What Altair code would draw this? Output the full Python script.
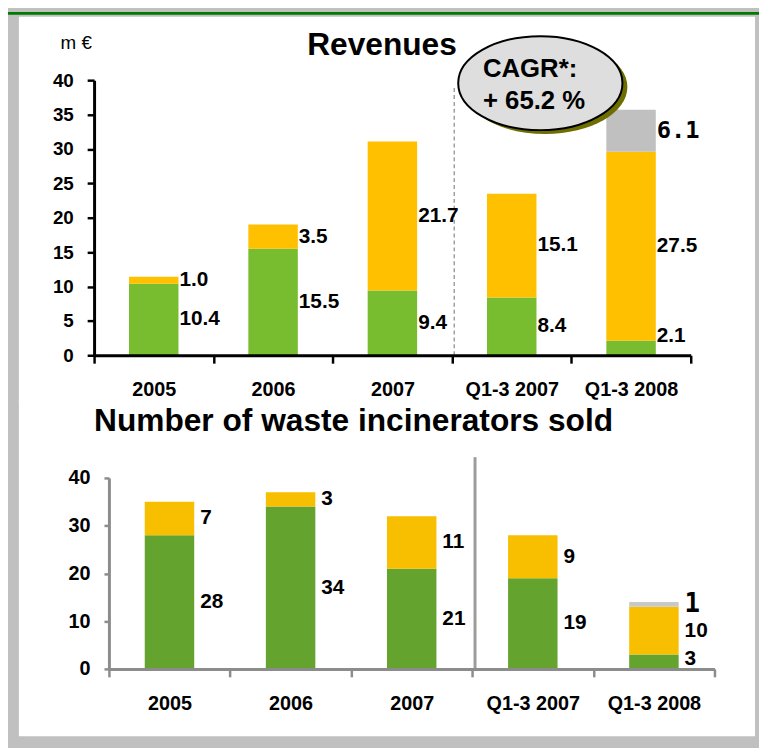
import altair as alt
import pandas as pd

# ---------------- data ----------------
categories = ["2005", "2006", "2007", "Q1-3 2007", "Q1-3 2008"]
series = ["Segment A", "Segment B", "Segment C"]

revenue_a = [10.4, 15.5, 9.4, 8.4, 2.1]
revenue_b = [1.0, 3.5, 21.7, 15.1, 27.5]
revenue_c = [0.0, 0.0, 0.0, 0.0, 6.1]

units_a = [28, 34, 21, 19, 3]
units_b = [7, 3, 11, 9, 10]
units_c = [0, 0, 0, 0, 1]

rev_ticks = [0, 5, 10, 15, 20, 25, 30, 35, 40]
unit_ticks = [0, 10, 20, 30, 40]

top_colors = ["#78BC30", "#FFC000", "#C0C0C0"]
bot_colors = ["#64A42E", "#F7BF00", "#C8C8C8"]

FONT = "Liberation Sans, Arial, sans-serif"
MONO = "DejaVu Sans Mono, monospace"


def long_table(a, b, c, fmt, floor):
    rows = []
    for i, cat in enumerate(categories):
        base = 0.0
        for j, v in enumerate((a[i], b[i], c[i])):
            if v > 0:
                mid = base + v / 2
                rows.append(dict(cat=cat, series=series[j], order=j, value=v,
                                 y0=base, y1=base + v,
                                 lab=max(mid, floor), label=fmt.format(v)))
            base += v
    return pd.DataFrame(rows)


rev_df = long_table(revenue_a, revenue_b, revenue_c, "{:.1f}", 2.8)
unit_df = long_table(units_a, units_b, units_c, "{:.0f}", 2.0)
one = pd.DataFrame({"k": [0]})


def axis_x(color, tick_size):
    return alt.Axis(labelAngle=0, tickBand="extent", labelFont=FONT, labelFontSize=20,
                    labelFontWeight="bold", labelColor="black", domainColor=color,
                    domainWidth=3, tickColor=color, tickWidth=2.5, tickSize=tick_size,
                    labelPadding=17, zindex=1, title=None)


def axis_y(color, values, tick_size, font_size):
    return alt.Axis(values=values, labelFont=FONT, labelFontSize=font_size,
                    labelFontWeight="bold", labelColor="black", domainColor=color,
                    domainWidth=3, tickColor=color, tickWidth=2.5, tickSize=tick_size,
                    labelPadding=14, labelOverlap=False, zindex=1, grid=False, title=None)


def panel(df, colors, xcolor, yticks, ytick_size, yfont, dx, mono_size):
    xscale = alt.Scale(paddingInner=0, paddingOuter=0)
    yscale = alt.Scale(domain=[0, 40], nice=False)
    xs = alt.X("cat:N", sort=categories, scale=xscale, axis=axis_x(xcolor, 8))
    ys = alt.Y("y1:Q", scale=yscale, axis=axis_y(xcolor, yticks, ytick_size, yfont))
    yt = alt.Y("lab:Q", scale=yscale, axis=axis_y(xcolor, yticks, ytick_size, yfont))
    bars = alt.Chart(df).mark_bar(size=50).encode(
        x=xs, y=ys, y2="y0:Q",
        color=alt.Color("series:N", scale=alt.Scale(domain=series, range=colors), legend=None),
    )
    labels = alt.Chart(df).transform_filter("datum.order < 2").mark_text(
        align="left", baseline="middle", dx=dx, font=FONT, fontSize=21,
        fontWeight="bold", color="black"
    ).encode(x=xs, y=yt, text="label:N")
    labels_c = alt.Chart(df).transform_filter("datum.order == 2").mark_text(
        align="left", baseline="middle", dx=dx, font=MONO, fontSize=mono_size,
        fontWeight="bold", color="black"
    ).encode(x=xs, y=yt, text="label:N")
    return bars, labels, labels_c


# ---------------- top: revenues ----------------
W1, H1 = 603, 278
bars1, lab1, labc1 = panel(rev_df, top_colors, "black", rev_ticks, 7, 19, 26, 24)

green_bar = alt.Chart(one).mark_rect(color="#007A00").encode(
    x=alt.value(-87), x2=alt.value(672), y=alt.value(-69), y2=alt.value(-66))
bg1 = alt.Chart(one).mark_rect(color="white").encode(
    x=alt.value(-76), x2=alt.value(668), y=alt.value(-64), y2=alt.value(327))
sep1 = alt.Chart(one).mark_rule(color="#A0A0A0", strokeWidth=1.5, strokeDash=[4, 3]).encode(
    x=alt.value(364), y=alt.value(8), y2=alt.value(H1))
title1 = alt.Chart(one).mark_text(text="Revenues", font=FONT, fontSize=32, fontWeight="bold",
                                  align="center", baseline="alphabetic", color="black").encode(
    x=alt.value(291), y=alt.value(-25))
unit1 = alt.Chart(one).mark_text(text="m €", font=FONT, fontSize=19,
                                 align="center", baseline="alphabetic", color="black").encode(
    x=alt.value(-18), y=alt.value(-31))

ELL = "M-1,0A1,0.572,0,1,1,1,0A1,0.572,0,1,1,-1,0Z"
shadow = alt.Chart(one).mark_point(shape=ELL, size=27556, filled=True, fill="#6E6E00",
                                   opacity=1, strokeWidth=0).encode(
    x=alt.value(456), y=alt.value(7))
ellipse = alt.Chart(one).mark_point(shape=ELL, size=27556, filled=True, fill="#DEDEDE",
                                    stroke="black", strokeWidth=2, opacity=1).encode(
    x=alt.value(451), y=alt.value(3))
cagr1 = alt.Chart(one).mark_text(text="CAGR*:", font=FONT, fontSize=26, fontWeight="bold",
                                 align="left", baseline="alphabetic", color="black").encode(
    x=alt.value(393), y=alt.value(-3))
cagr2 = alt.Chart(one).mark_text(text="+ 65.2 %", font=FONT, fontSize=26, fontWeight="bold",
                                 align="left", baseline="alphabetic", color="black").encode(
    x=alt.value(393), y=alt.value(29))

top = alt.layer(green_bar, bg1, sep1, bars1, lab1, labc1, title1, unit1, shadow, ellipse,
                cagr1, cagr2).properties(width=W1, height=H1)

# ---------------- bottom: units ----------------
W2, H2 = 612, 193
bars2, lab2, labc2 = panel(unit_df, bot_colors, "#8C8C8C", unit_ticks, 5, 20, 31, 26)

bg2 = alt.Chart(one).mark_rect(color="white").encode(
    x=alt.value(-91), x2=alt.value(653), y=alt.value(-79), y2=alt.value(261))
sep2 = alt.Chart(one).mark_rule(color="#9C9C9C", strokeWidth=3).encode(
    x=alt.value(370), y=alt.value(-21), y2=alt.value(H2))
title2 = alt.Chart(one).mark_text(text="Number of waste incinerators sold", font=FONT,
                                  fontSize=32, fontWeight="bold", align="left",
                                  baseline="alphabetic", color="black").encode(
    x=alt.value(-15), y=alt.value(-47))

bottom = alt.layer(bg2, sep2, bars2, lab2, labc2, title2).properties(width=W2, height=H2)

# invisible spacer shifting the lower panel 15px to the right
spacer = alt.Chart(one).mark_rect(opacity=0).encode(
    x=alt.value(0), x2=alt.value(1), y=alt.value(0), y2=alt.value(1)
).properties(width=15, height=H2)

lower = alt.hconcat(spacer, bottom, spacing=0, bounds="flush")

chart = alt.vconcat(top, lower, spacing=124, bounds="flush").properties(
    padding={"left": 0, "top": 0, "right": 0, "bottom": 8},
    background="#C0C0C0",
).resolve_scale(color="independent").configure_view(strokeWidth=0)

chart.save("out.html", embed_options={"renderer": "svg", "actions": False})
